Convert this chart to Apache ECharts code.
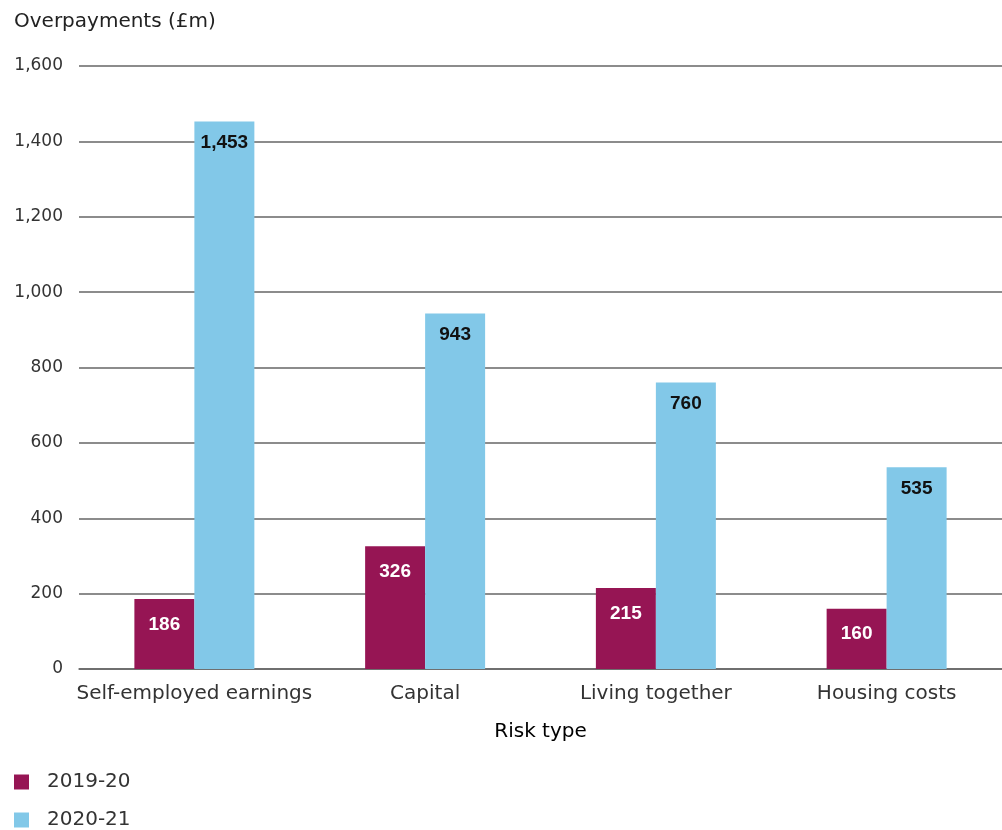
<!DOCTYPE html>
<html><head><meta charset="utf-8">
<script src="https://cdn.jsdelivr.net/npm/echarts@6/dist/echarts.min.js"></script>
<style>html,body{margin:0;padding:0;background:#fff}#c{width:1002px;height:830px}</style>
</head><body><div id="c"></div>
<script>
const categories = ['Self-employed earnings', 'Capital', 'Living together', 'Housing costs'];
const series2019 = [186, 326, 215, 160];
const series2020 = [1453, 943, 760, 535];
const seriesNames = ['2019-20', '2020-21'];
const yTicks = {min: 0, max: 1600, interval: 200};

const FONT = '"DejaVu Sans", "Liberation Sans", Arial, sans-serif';
const LFONT = '"Liberation Sans", Arial, sans-serif';
const chart = echarts.init(document.getElementById('c'), null, {renderer: 'canvas'});
chart.setOption({
  animation: false,
  textStyle: {fontFamily: FONT},
  title: {text: 'Overpayments (£m)', left: 14, top: 12, padding: 0,
    textStyle: {fontFamily: FONT, fontSize: 20, fontWeight: 'normal', color: '#222'}},
  legend: {
    orient: 'vertical', left: 14, top: 772, padding: 0, itemWidth: 15, itemHeight: 15, itemGap: 18,
    icon: 'rect', textStyle: {fontFamily: FONT, fontSize: 20, color: '#333', padding: [0, 0, 0, 13]},
    data: seriesNames
  },
  grid: {left: 79, right: 0, top: 66, bottom: 161, containLabel: false},
  xAxis: {
    type: 'category', data: categories,
    name: 'Risk type', nameLocation: 'middle', nameGap: 53,
    nameTextStyle: {fontFamily: FONT, fontSize: 20, color: '#000'},
    axisLine: {lineStyle: {color: '#666', width: 1.5}},
    axisTick: {show: false},
    axisLabel: {fontFamily: FONT, fontSize: 20, color: '#333', margin: 15, interval: 0}
  },
  yAxis: {
    type: 'value', min: yTicks.min, max: yTicks.max, interval: yTicks.interval,
    axisLine: {show: false}, axisTick: {show: false},
    axisLabel: {fontFamily: FONT, fontSize: 17, color: '#333', margin: 16,
      formatter: v => v.toLocaleString('en-GB')},
    splitLine: {lineStyle: {color: '#666', width: 1.5}}
  },
  series: [
    {name: seriesNames[0], type: 'bar', data: series2019, barGap: '0%', barCategoryGap: '48%',
      itemStyle: {color: '#961554'},
      label: {show: true, position: 'insideTop', distance: 16, color: '#fff', fontSize: 19, fontWeight: 'bold', fontFamily: LFONT}},
    {name: seriesNames[1], type: 'bar', data: series2020, barGap: '0%', barCategoryGap: '48%',
      itemStyle: {color: '#82C8E8'},
      label: {show: true, position: 'insideTop', distance: 12, color: '#111', fontSize: 19, fontWeight: 'bold', fontFamily: LFONT,
        formatter: p => p.value.toLocaleString('en-GB')}}
  ]
});
</script></body></html>
